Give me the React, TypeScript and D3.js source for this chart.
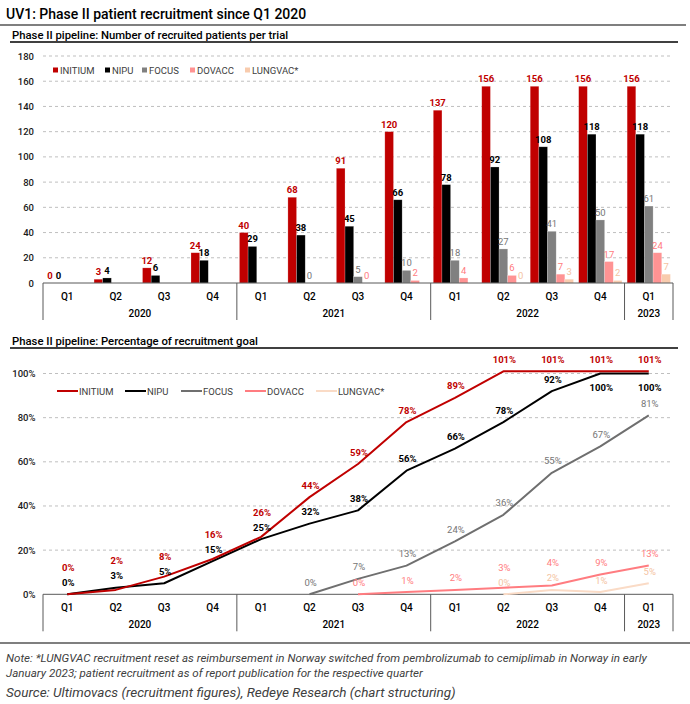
import React from 'react';
import * as d3 from 'd3';

// ---------- DATA ----------
const quarters = ['Q1', 'Q2', 'Q3', 'Q4', 'Q1', 'Q2', 'Q3', 'Q4', 'Q1', 'Q2', 'Q3', 'Q4', 'Q1'];
const years = ['2020', '2021', '2022', '2023'];
const yearSpans = [4, 4, 4, 1];
const seriesNames = ['INITIUM', 'NIPU', 'FOCUS', 'DOVACC', 'LUNGVAC*'];

const initiumPatients = [0, 3, 12, 24, 40, 68, 91, 120, 137, 156, 156, 156, 156];
const nipuPatients = [0, 4, 6, 18, 29, 38, 45, 66, 78, 92, 108, 118, 118];
const focusPatients = [null, null, null, null, null, 0, 5, 10, 18, 27, 41, 50, 61];
const dovaccPatients = [null, null, null, null, null, null, 0, 2, 4, 6, 7, 17, 24];
const lungvacPatients = [null, null, null, null, null, null, null, null, null, 0, 3, 2, 7];

const initiumPct = [0, 2, 8, 16, 26, 44, 59, 78, 89, 101, 101, 101, 101];
const nipuPct = [0, 3, 5, 15, 25, 32, 38, 56, 66, 78, 92, 100, 100];
const focusPct = [null, null, null, null, null, 0, 7, 13, 24, 36, 55, 67, 81];
const dovaccPct = [null, null, null, null, null, null, 0, 1, 2, 3, 4, 9, 13];
const lungvacPct = [null, null, null, null, null, null, null, null, null, 0, 2, 1, 5];

const barTicks = [0, 20, 40, 60, 80, 100, 120, 140, 160, 180];
const pctTicks = [0, 20, 40, 60, 80, 100];

const patientSeries = [initiumPatients, nipuPatients, focusPatients, dovaccPatients, lungvacPatients];
const pctSeries = [initiumPct, nipuPct, focusPct, dovaccPct, lungvacPct];

// ---------- STYLE ----------
const barColors = ['#C00000', '#000000', '#808080', '#FF9393', '#F8CBAD'];
const lineColors = ['#C00000', '#000000', '#6F6F6F', '#FF7C80', '#FADBC6'];
const labelColors = ['#C00000', '#000000', '#767676', '#FF7C80', '#F4C3A2'];
const labelWeights = [700, 700, 400, 400, 400];
const FONT = 'Roboto, "Noto Sans", Arial, sans-serif';

const W = 690;
const H = 704;
const X0 = 43;
const X1 = 673;

export default function App() {
  const idx = quarters.map((_, i) => String(i));
  const xBand = d3.scaleBand<string>().domain(idx).range([X0, X1]).padding(0);
  const bw = xBand.bandwidth();
  const xSub = d3.scaleBand<string>().domain(seriesNames).range([2.6, bw - 2.6]).padding(0);

  const yTop = d3.scaleLinear().domain([0, 180]).range([283, 56]);
  const topBase = yTop(0);
  const yBot = d3.scaleLinear().domain([0, 100]).range([594.3, 373.5]);
  const botBase = yBot(0);

  const yearBounds: number[] = [];
  let acc = 0;
  yearBounds.push(X0);
  yearSpans.forEach((s) => {
    acc += s;
    yearBounds.push(xBand(String(acc - 1))! + bw);
  });

  const axisBlock = (base: number, keyPrefix: string) => (
    <g key={keyPrefix}>
      <line x1={X0} x2={X1} y1={base} y2={base} stroke="#595959" strokeWidth={1} />
      {yearBounds.map((xb, i) => (
        <line key={'vb' + i} x1={xb} x2={xb} y1={base} y2={base + 37} stroke="#595959" strokeWidth={1} />
      ))}
      {quarters.map((q, i) => (
        <text key={'q' + i} x={xBand(String(i))! + bw / 2} y={base + 13} fontSize={10} fontWeight={500} textAnchor="middle" dominantBaseline="central" fill="#000" fontFamily={FONT}>
          {q}
        </text>
      ))}
      {years.map((yr, i) => (
        <text key={'y' + i} x={(yearBounds[i] + yearBounds[i + 1]) / 2} y={base + 30} fontSize={10} fontWeight={500} textAnchor="middle" dominantBaseline="central" fill="#000" fontFamily={FONT}>
          {yr}
        </text>
      ))}
    </g>
  );

  const lineLabelY: (number | null)[][] = pctSeries.map(() => quarters.map(() => null));
  const place = (s: number) => {
    pctSeries[s].forEach((v, i) => {
      if (v == null) return;
      let ly = yBot(v) - 12;
      if (s === 1 && v >= 100) ly = yBot(v) + 14;
      if (s === 0 && lineLabelY[1][i] != null) ly = Math.min(ly, (lineLabelY[1][i] as number) - 15);
      if (s === 3 && lineLabelY[4][i] != null) ly = Math.min(ly, (lineLabelY[4][i] as number) - 15);
      lineLabelY[s][i] = ly;
    });
  };
  [4, 3, 2, 1, 0].forEach(place);

  const lineGen = d3
    .line<{ i: number; v: number }>()
    .x((d) => xBand(String(d.i))! + bw / 2)
    .y((d) => yBot(d.v));

  const topLegendX = [53, 105, 142, 190, 245];
  const botLegendX = [57, 125, 181, 245, 316];

  return (
    <svg width={W} height={H} style={{ position: 'absolute', left: 0, top: 0, background: '#fff' }} fontFamily={FONT}>
      <rect x={0} y={0} width={W} height={H} fill="#fff" />
      <text x={6} y={14} fontSize={14} fontWeight={500} dominantBaseline="central" fill="#000">
        UV1: Phase II patient recruitment since Q1 2020
      </text>
      <line x1={0} x2={686} y1={25} y2={25} stroke="#7F7F7F" strokeWidth={2} />

      <text x={12} y={35} fontSize={11.3} fontWeight={500} dominantBaseline="central" fill="#000">
        Phase II pipeline: Number of recruited patients per trial
      </text>
      <line x1={10} x2={678} y1={42} y2={42} stroke="#000" strokeWidth={1.3} />

      {barTicks.map((t) => (
        <g key={'bt' + t}>
          {t > 0 && (
            <line x1={X0} x2={X1} y1={yTop(t)} y2={yTop(t)} stroke="#BFBFBF" strokeDasharray="3,3" strokeWidth={1} />
          )}
          <text x={34} y={yTop(t)} fontSize={9.5} fontWeight={500} textAnchor="end" dominantBaseline="central" fill="#1a1a1a">
            {t}
          </text>
        </g>
      ))}

      {seriesNames.map((n, k) => (
        <g key={'tl' + k}>
          <rect x={topLegendX[k]} y={67.5} width={5} height={5} fill={barColors[k]} />
          <text x={topLegendX[k] + 7} y={70.5} fontSize={9.5} dominantBaseline="central" fill="#404040">
            {n}
          </text>
        </g>
      ))}

      {patientSeries.map((arr, k) =>
        arr.map((v, i) => {
          if (v == null) return null;
          const x = xBand(String(i))! + xSub(seriesNames[k])!;
          const y = yTop(v);
          return (
            <g key={'b' + k + '_' + i}>
              <rect x={x} y={y} width={xSub.bandwidth()} height={topBase - y} fill={barColors[k]} stroke="#ffffff" strokeOpacity={0.35} strokeWidth={0.6} />
              <text x={x + xSub.bandwidth() / 2} y={y - 4} fontSize={9.5} fontWeight={labelWeights[k]} textAnchor="middle" fill={labelColors[k]}>
                {v}
              </text>
            </g>
          );
        })
      )}
      {axisBlock(topBase, 'axTop')}

      <text x={12} y={341} fontSize={11.3} fontWeight={500} dominantBaseline="central" fill="#000">
        Phase II pipeline: Percentage of recruitment goal
      </text>
      <line x1={10} x2={678} y1={348} y2={348} stroke="#000" strokeWidth={1.3} />

      {pctTicks.map((t) => (
        <g key={'pt' + t}>
          {t > 0 && (
            <line x1={X0} x2={X1} y1={yBot(t)} y2={yBot(t)} stroke="#BFBFBF" strokeDasharray="3,3" strokeWidth={1} />
          )}
          <text x={35.5} y={yBot(t)} fontSize={9.5} fontWeight={500} textAnchor="end" dominantBaseline="central" fill="#1a1a1a">
            {t + '%'}
          </text>
        </g>
      ))}

      {seriesNames.map((n, k) => (
        <g key={'bl' + k}>
          <line x1={botLegendX[k]} x2={botLegendX[k] + 21} y1={391} y2={391} stroke={lineColors[k]} strokeWidth={2} />
          <text x={botLegendX[k] + 22} y={391} fontSize={9.5} dominantBaseline="central" fill="#404040">
            {n}
          </text>
        </g>
      ))}

      {axisBlock(botBase, 'axBot')}

      {[4, 3, 2, 1, 0].map((k) => {
        const pts = pctSeries[k]
          .map((v, i) => ({ i, v }))
          .filter((d) => d.v != null) as { i: number; v: number }[];
        return <path key={'ln' + k} d={lineGen(pts) || ''} fill="none" stroke={lineColors[k]} strokeWidth={2} strokeLinejoin="round" />;
      })}
      {[4, 3, 2, 1, 0].map((k) =>
        pctSeries[k].map((v, i) => {
          if (v == null) return null;
          return (
            <text key={'ll' + k + '_' + i} x={xBand(String(i))! + bw / 2 + 1} y={lineLabelY[k][i] as number} fontSize={9.5} fontWeight={labelWeights[k]} textAnchor="middle" dominantBaseline="central" fill={labelColors[k]}>
              {v + '%'}
            </text>
          );
        })
      )}

      <line x1={0} x2={690} y1={643} y2={643} stroke="#7F7F7F" strokeWidth={2} />
      <text x={6} y={657.5} fontSize={11.6} fontStyle="italic" dominantBaseline="central" fill="#404040">
        Note: *LUNGVAC recruitment reset as reimbursement in Norway switched from pembrolizumab to cemiplimab in Norway in early
      </text>
      <text x={6} y={673} fontSize={11.6} fontStyle="italic" dominantBaseline="central" fill="#404040">
        January 2023; patient recruitment as of report publication for the respective quarter
      </text>
      <text x={6} y={692} fontSize={13.5} fontStyle="italic" dominantBaseline="central" fill="#404040">
        Source: Ultimovacs (recruitment figures), Redeye Research (chart structuring)
      </text>
    </svg>
  );
}
